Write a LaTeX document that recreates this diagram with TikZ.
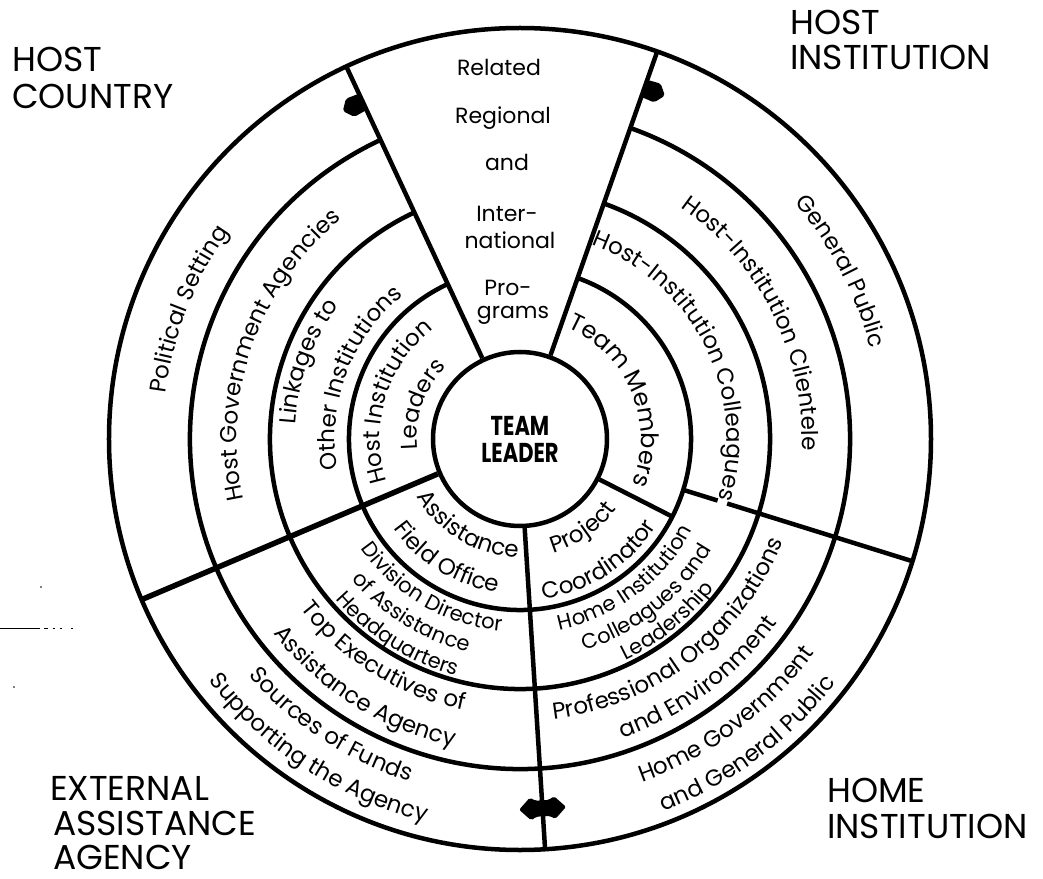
\documentclass[tikz,border=0pt]{standalone}
\usepackage{fontspec}
\setmainfont{Poppins}
\usetikzlibrary{decorations.text}
\newcommand\rf{\fontsize{23}{23}\selectfont}
\newcommand\smallringfont{\fontsize{21}{21}\selectfont}
\newcommand\wf{\fontsize{22}{22}\selectfont}
\newcommand\cf{\fontsize{34.5}{35}\selectfont}
% clockwise arc text (tops outward)
\newcommand\cwtext[4][\rf]{\path[decorate,decoration={text along path,text align=center,text={|#1|#4}}] (#2+80:#3pt) arc[start angle=#2+80,end angle=#2-80,radius=#3pt];}
% counter-clockwise arc text (tops toward centre)
\newcommand\ccwtext[4][\rf]{\path[decorate,decoration={text along path,text align=center,text={|#1|#4}}] (#2-80:#3pt) arc[start angle=#2-80,end angle=#2+80,radius=#3pt];}
\begin{document}
\begin{tikzpicture}[x=1pt,y=1pt,
  ring/.style={line width=4.5pt},
  divider/.style={line width=4.5pt},
  corner/.style={font=\cf,anchor=base west,inner sep=0pt},
  wedge/.style={font=\wf,inner sep=0pt},
  blob/.style={fill=black,rounded corners=2pt},
  speck/.style={line width=0.8pt}]
\useasboundingbox (-520,-439) rectangle (523,439);

% centre
\node[circle,draw,line width=4.5pt,minimum size=174pt,inner sep=0pt,
      font=\bfseries\fontsize{21}{25}\selectfont,align=center] (tl) at (0,0)
      {\scalebox{1}[1.3]{TEAM}\\[2pt]\scalebox{1}[1.3]{LEADER}};

% rings
\draw[ring] (0,0) circle[radius=411pt];
\draw[ring] (115:171pt) arc[start angle=115,end angle=430.5,radius=171pt];
\draw[ring] (115:250pt) arc[start angle=115,end angle=430.5,radius=250pt];
\draw[ring] (115:330pt) arc[start angle=115,end angle=430.5,radius=330pt];

% dividers
\draw[divider] (tl.115) -- (115:411pt);
\draw[divider] (tl.70.5) -- (70.5:411pt);
\draw[divider,line width=5.5pt] (tl.203) -- (203:411pt);
\draw[divider] (tl.273.5) -- (273.5:411pt);
\draw[divider] (tl.333) -- (333:171pt);
\draw[divider] (342.7:171pt) -- (342.7:207pt);
\draw[divider] (342.7:217pt) -- (342.7:411pt);

% arrow blobs
\begin{scope}[shift={(115:372pt)},rotate=205]
  \fill[blob] (0,-9) -- (14,-10) -- (22,0) -- (14,10) -- (0,9) -- cycle;
\end{scope}
\begin{scope}[shift={(70.5:372pt)},rotate=-19.5]
  \fill[blob] (0,-9) -- (14,-10) -- (22,0) -- (14,10) -- (0,9) -- cycle;
\end{scope}
\begin{scope}[shift={(273.5:370pt)},rotate=3.5]
  \fill[blob] (-23.5,0) -- (-12,11.5) -- (-7,8) -- (7,8) -- (12,11.5) -- (23.5,0)
     -- (12,-11.5) -- (7,-8) -- (-7,-8) -- (-12,-11.5) -- cycle;
\end{scope}

% top wedge
\node[wedge] (w1) at (-21,372) {Related};
\node[wedge] (w2) at (-17,320.5) {Regional};
\node[wedge] (w3) at (-13,276.5) {and};
\node[wedge] (w4) at (-13,225.5) {Inter-};
\node[wedge] (w5) at (-10,199) {national};
\node[wedge] (w6) at (-12,151) {Pro-};
\node[wedge] (w7) at (-7,124) {grams};

% left sector
\cwtext{158.6}{357}{Political Setting}
\cwtext{160.7}{283}{Host Government Agencies}
\cwtext{160}{225}{Linkages to}
\cwtext{159.3}{185}{Other Institutions}
\cwtext{163}{140}{Host Institution}
\cwtext{160.5}{103}{Leaders}

% right sector
\cwtext{27.6}{362}{General Public}
\cwtext{26.5}{282}{Host-Institution Clientele}
\cwtext{26.5}{207}{Host-Institution Colleagues}
\cwtext[\fontsize{24}{24}\selectfont]{22.5}{121}{Team Members}

% lower-left sector
\ccwtext{239}{118}{Assistance}
\ccwtext{238.5}{155}{Field Office}
\ccwtext[\smallringfont]{239.5}{193}{Division Director}
\ccwtext[\smallringfont]{238}{219}{of Assistance}
\ccwtext[\smallringfont]{238}{245}{Headquarters}
\ccwtext{238}{277}{Top Executives of}
\ccwtext{238}{314}{Assistance Agency}
\ccwtext{236.6}{360}{Sources of Funds}
\ccwtext{237}{394}{Supporting the Agency}

% lower-right sector
\ccwtext{305.3}{119}{Project}
\ccwtext{303}{162}{Coordinator}
\ccwtext[\smallringfont]{307}{195}{Home Institution}
\ccwtext[\smallringfont]{308.6}{221}{Colleagues and}
\ccwtext[\smallringfont]{309}{245}{Leadership}
\ccwtext{307.8}{282}{Professional Organizations}
\ccwtext{306.7}{316}{and Environment}
\ccwtext{306.8}{364}{Home Government}
\ccwtext{306.7}{399}{and General Public}

% corner labels
\node[corner] (hc1) at (-508,367) {HOST};
\node[corner] (hc2) at (-508,330) {COUNTRY};
\node[corner] (hi1) at (270,404) {HOST};
\node[corner] (hi2) at (270,369) {INSTITUTION};
\node[corner] (ea1) at (-470,-361) {EXTERNAL};
\node[corner] (ea2) at (-467,-396) {ASSISTANCE};
\node[corner] (ea3) at (-467,-430) {AGENCY};
\node[corner] (hm1) at (307,-363) {HOME};
\node[corner] (hm2) at (307,-399) {INSTITUTION};

% scan specks at left
\draw[speck] (-520,-189) -- (-480,-189);
\draw[speck] (-476,-189) -- (-472,-189) (-467,-189) -- (-465,-189) (-460,-189) -- (-458,-189) (-449,-189) -- (-447,-189);
\fill (-479,-148) circle[radius=0.9pt];
\fill (-506,-248) circle[radius=0.9pt];
\end{tikzpicture}
\end{document}
